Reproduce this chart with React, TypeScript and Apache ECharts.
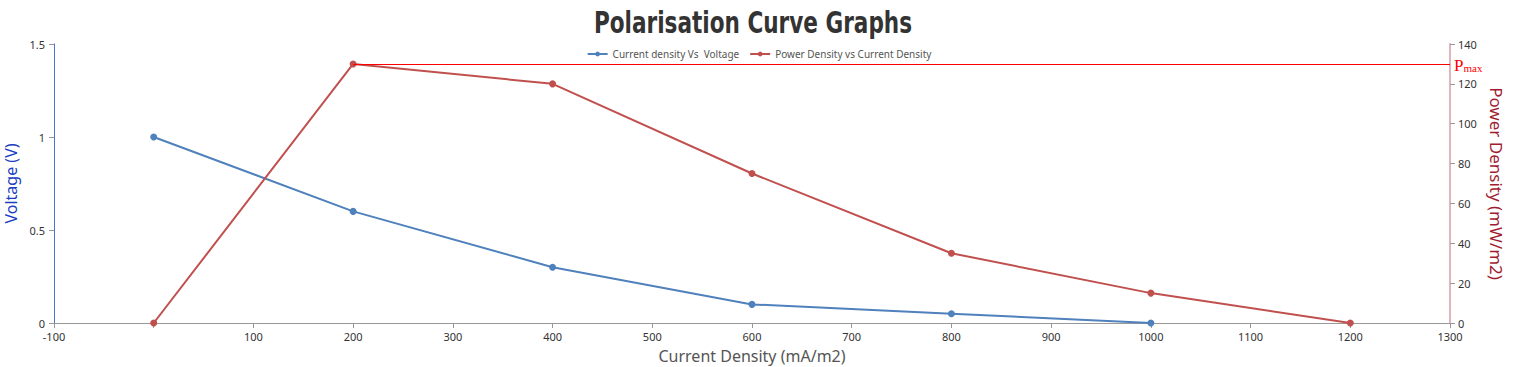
import React, { useEffect, useRef } from "react";
import * as echarts from "echarts";

const currentDensity = [0, 200, 400, 600, 800, 1000, 1200];
const voltage = [1, 0.6, 0.3, 0.1, 0.05, 0];
const power = [0, 130, 120, 75, 35, 15, 0];
const pmaxValue = 130;
const pmaxFrom = 200;
const pmaxTo = 1300;

export default function App() {
  const ref = useRef<HTMLDivElement>(null);
  useEffect(() => {
    if (!ref.current) return;
    const chart = echarts.init(ref.current, undefined, { renderer: "svg" });
    const font = "'Noto Sans', sans-serif";
    chart.setOption({
      animation: false,
      graphic: [
        {
          type: "text",
          x: 753,
          y: 23,
          scaleY: 1.25,
          style: {
            text: "Polarisation Curve Graphs",
            fontFamily: "'DejaVu Sans Condensed', sans-serif",
            fontWeight: "bold",
            fontSize: 24,
            fill: "#333",
            align: "center",
            verticalAlign: "middle",
          },
        },
      ],
      legend: {
        top: 44,
        left: "center",
        itemWidth: 20,
        itemHeight: 6,
        itemGap: 10,
        textStyle: { fontSize: 10, color: "#555", fontFamily: font },
        data: ["Current density Vs  Voltage", "Power Density vs Current Density"],
      },
      grid: {
        left: 54,
        right: 68,
        top: 44,
        bottom: 44,
        containLabel: false,
        outerBoundsMode: "none",
      },
      xAxis: {
        type: "value",
        min: -100,
        max: 1300,
        interval: 100,
        name: "Current Density (mA/m2)",
        nameLocation: "middle",
        nameGap: 25,
        nameTextStyle: { fontSize: 16, color: "#555", fontFamily: font },
        axisLine: { show: true, onZero: false, lineStyle: { color: "#999999", width: 1 } },
        axisTick: { show: true, lineStyle: { color: "#999999" } },
        axisLabel: {
          color: "#333",
          fontSize: 11,
          fontFamily: font,
          margin: 8,
          formatter: (v: number) => (v === 0 ? "" : String(v)),
        },
        splitLine: { show: false },
      },
      yAxis: [
        {
          type: "value",
          min: 0,
          max: 1.5,
          interval: 0.5,
          name: "Voltage (V)",
          nameLocation: "middle",
          nameRotate: 90,
          nameGap: 30,
          nameTextStyle: { fontSize: 16, color: "#1a40bf", fontFamily: font },
          axisLine: { show: true, onZero: false, lineStyle: { color: "#4a72d8", width: 1 } },
          axisTick: { show: true, length: 5, lineStyle: { color: "#999999" } },
          axisLabel: { color: "#333", fontSize: 11, fontFamily: font, margin: 9 },
          splitLine: { show: false },
        },
        {
          type: "value",
          min: 0,
          max: 140,
          interval: 20,
          position: "right",
          name: "Power Density (mW/m2)",
          nameLocation: "middle",
          nameRotate: -90,
          nameGap: 36,
          nameTextStyle: { fontSize: 17, color: "#a01c30", fontFamily: font },
          axisLine: { show: true, onZero: false, lineStyle: { color: "#e2b4bc", width: 2 } },
          axisTick: { show: true, length: 5, lineStyle: { color: "#999999" } },
          axisLabel: { color: "#333", fontSize: 11, fontFamily: font, margin: 8 },
          splitLine: { show: false },
        },
      ],
      series: [
        {
          name: "Current density Vs  Voltage",
          type: "line",
          yAxisIndex: 0,
          data: voltage.map((v, i) => [currentDensity[i], v]),
          symbol: "circle",
          symbolSize: 7,
          color: "#4f81bc",
          lineStyle: { width: 2, color: "#4f81bc" },
          itemStyle: { color: "#4f81bc" },
        },
        {
          name: "Power Density vs Current Density",
          type: "line",
          yAxisIndex: 1,
          data: power.map((v, i) => [currentDensity[i], v]),
          symbol: "circle",
          symbolSize: 7,
          color: "#c0504e",
          lineStyle: { width: 2, color: "#c0504e" },
          itemStyle: { color: "#c0504e" },
          markLine: {
            silent: true,
            symbol: "none",
            lineStyle: { color: "#ff0000", width: 1, type: "solid" },
            label: {
              show: true,
              position: "end",
              distance: 4,
              formatter: "{p|P}{s|max}",
              rich: {
                p: {
                  fontFamily: "'Liberation Serif', serif",
                  fontSize: 17,
                  color: "#ff0000",
                  lineHeight: 20,
                  verticalAlign: "bottom",
                },
                s: {
                  fontFamily: "'Liberation Serif', serif",
                  fontSize: 11,
                  color: "#ff0000",
                  lineHeight: 20,
                  verticalAlign: "bottom",
                  padding: [8, 0, 0, 0],
                },
              },
            },
            data: [
              [
                { coord: [pmaxFrom, pmaxValue] },
                { coord: [pmaxTo, pmaxValue] },
              ],
            ],
          },
        },
      ],
    });
    return () => chart.dispose();
  }, []);
  return (
    <div
      ref={ref}
      style={{ position: "absolute", left: 0, top: 0, width: 1518, height: 367 }}
    />
  );
}
